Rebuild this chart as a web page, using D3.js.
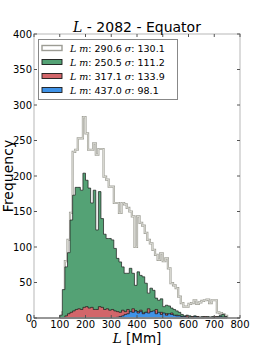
<!DOCTYPE html>
<html>
<head>
<meta charset="utf-8">
<script src="https://cdn.jsdelivr.net/npm/d3@7"></script>
<style>
  body { margin: 0; background: #fff; }
  svg text { font-family: "DejaVu Sans", sans-serif; }
  .math { font-family: "DejaVu Serif", serif; font-style: italic; }
</style>
</head>
<body>
<div id="chart"></div>
<script>
// bins are 10 Mm wide, first bin starts at 100 Mm
const binStart = 100;
const binWidth = 10;

// all events (outline only)
const allCounts = [0,8,80,110,148,234,237,253,253,283, 260,237,237,246,230,238,238,199,195,185,
  185,162,162,148,162,160,155,150,143,100, 143,134,130,120,110,105,96,89,82,91,
  80,84,70,49,46,42,30,21,16,16, 20,21,25,20,22,24,25,26,21,25, 25,8,7,5,3];
const greenCounts = [4,40,72,92,138,173,184,184,180,204, 194,183,162,180,124,178,140,118,112,112,
  110,98,84,79,72,63,63,70,63,46, 65,60,58,49,35,42,39,28,25,27,
  16,18,17,14,12,10,8,5,3,4, 3,2,3,2,1,2,1,2,1,2, 1,2,4,5,2];
const redCounts = [0,0,3,6,8,10,12,13,12,15, 16,14,15,12,12,16,15,12,13,11,
  12,10,9,8,11,9,12,8,13,10, 9,11,7,8,13,9,7,12,6,8,
  5,6,4,7,3,4,3,2,2,3, 1,2,1,2,1,1,2,1,1,1, 2,1,1,1,1];
const blueCounts = [0,0,0,0,0,0,0,0,0,0, 0,0,0,0,0,0,0,0,0,0,
  0,0,1,2,3,5,6,9,8,10, 7,9,6,8,7,9,10,6,8,5,
  7,4,6,5,4,3,3,2,2,1, 1,0,2,1,1,0,1,0,1,0, 1,1,2,1,1];

const legendMeans = ["290.6", "250.5", "317.1", "437.0"];
const legendSigmas = ["130.1", "111.2", "133.9", "98.1"];
const xTicks = [0, 100, 200, 300, 400, 500, 600, 700, 800];
const yTicks = [0, 50, 100, 150, 200, 250, 300, 350, 400];

const width = 266, height = 354;
const margin = { top: 34, right: 26, bottom: 36, left: 34 };

const svg = d3.select("#chart").append("svg")
  .attr("width", width)
  .attr("height", height);

const x = d3.scaleLinear().domain([0, 800]).range([margin.left, width - margin.right]);
const y = d3.scaleLinear().domain([0, 400]).range([height - margin.bottom, margin.top]);

// turn counts into step points, closing at the right edge of the last bin
function steps(counts) {
  const pts = counts.map((c, i) => ({ x0: binStart + i * binWidth, c: c }));
  pts.push({ x0: binStart + counts.length * binWidth, c: 0 });
  return pts;
}

const area = d3.area()
  .curve(d3.curveStepAfter)
  .x(d => x(d.x0))
  .y0(y(0))
  .y1(d => y(d.c));

const line = d3.line()
  .curve(d3.curveStepAfter)
  .x(d => x(d.x0))
  .y(d => y(d.c));

// outline of all events, drawn behind
const allPts = [{ x0: binStart, c: 0 }].concat(steps(allCounts));
svg.append("path")
  .attr("d", line(allPts))
  .attr("fill", "none")
  .attr("stroke", "#a2a29a")
  .attr("stroke-width", 2.2);
svg.append("path")
  .attr("d", line(allPts))
  .attr("fill", "none")
  .attr("stroke", "#efefea")
  .attr("stroke-width", 0.7);

const filled = [
  { counts: greenCounts, color: "#54a275" },
  { counts: redCounts, color: "#d2666a" },
  { counts: blueCounts, color: "#3f93e8" }
];
filled.forEach(s => {
  svg.append("path")
    .attr("d", area(steps(s.counts)))
    .attr("fill", s.color)
    .attr("stroke", "#1a1a1a")
    .attr("stroke-width", 0.7);
});

// frame
svg.append("rect")
  .attr("x", x(0)).attr("y", y(400))
  .attr("width", x(800) - x(0)).attr("height", y(0) - y(400))
  .attr("fill", "none")
  .attr("stroke", "#cfcfcf")
  .attr("stroke-width", 1.5);
svg.append("line")
  .attr("x1", x(0)).attr("x2", x(800))
  .attr("y1", y(0)).attr("y2", y(0))
  .attr("stroke", "#555").attr("stroke-width", 1);

// ticks inside, labels outside
const yAxis = svg.append("g");
yTicks.forEach(t => {
  yAxis.append("line").attr("x1", x(0)).attr("x2", x(0) + 3).attr("y1", y(t)).attr("y2", y(t)).attr("stroke", "#555");
  yAxis.append("line").attr("x1", x(800)).attr("x2", x(800) - 3).attr("y1", y(t)).attr("y2", y(t)).attr("stroke", "#555");
  yAxis.append("text")
    .attr("x", x(0) - 2).attr("y", y(t) + 3.5)
    .attr("text-anchor", "end")
    .style("font-size", "10px")
    .text(t);
});
const xAxis = svg.append("g");
xTicks.forEach(t => {
  xAxis.append("line").attr("x1", x(t)).attr("x2", x(t)).attr("y1", y(0)).attr("y2", y(0) - 3).attr("stroke", "#555");
  xAxis.append("line").attr("x1", x(t)).attr("x2", x(t)).attr("y1", y(400)).attr("y2", y(400) + 3).attr("stroke", "#555");
  xAxis.append("text")
    .attr("x", x(t)).attr("y", y(0) + 10)
    .attr("text-anchor", "middle")
    .style("font-size", "10px")
    .text(t);
});

// title
const title = svg.append("text")
  .attr("x", (x(0) + x(800)) / 2).attr("y", 32)
  .attr("text-anchor", "middle")
  .style("font-size", "14px");
title.append("tspan").attr("class", "math").text("L");
title.append("tspan").text(" - 2082 - Equator");

// axis labels
const xl = svg.append("text")
  .attr("x", (x(0) + x(800)) / 2).attr("y", 343)
  .attr("text-anchor", "middle")
  .style("font-size", "13.5px");
xl.append("tspan").attr("class", "math").text("L");
xl.append("tspan").text(" [Mm]");

svg.append("text")
  .attr("transform", "translate(13," + (y(0) + y(400)) / 2 + ") rotate(-90)")
  .attr("text-anchor", "middle")
  .style("font-size", "14px")
  .text("Frequency");

// legend
const legend = svg.append("g");
legend.append("rect")
  .attr("x", 38.5).attr("y", 39.5).attr("width", 139).attr("height", 60)
  .attr("fill", "#fff").attr("stroke", "#888").attr("stroke-width", 1);
const legendFill = ["#fff", "#54a275", "#d2666a", "#3f93e8"];
const legendEdge = ["#9c9c94", "#1a1a1a", "#1a1a1a", "#1a1a1a"];
legendMeans.forEach((m, i) => {
  const yy = 48 + i * 14;
  legend.append("rect")
    .attr("x", 42).attr("y", yy - 2.5).attr("width", 20).attr("height", 5)
    .attr("fill", legendFill[i]).attr("stroke", legendEdge[i]).attr("stroke-width", i === 0 ? 1.4 : 0.9);
  const t = legend.append("text")
    .attr("x", 70).attr("y", yy + 3.5)
    .style("font-size", "9.5px");
  t.append("tspan").attr("class", "math").text("L");
  t.append("tspan").text("  ");
  t.append("tspan").attr("class", "math").text("m");
  t.append("tspan").text(": " + m + "  ");
  t.append("tspan").attr("class", "math").text("σ");
  t.append("tspan").text(": " + legendSigmas[i]);
});
</script>
</body>
</html>
